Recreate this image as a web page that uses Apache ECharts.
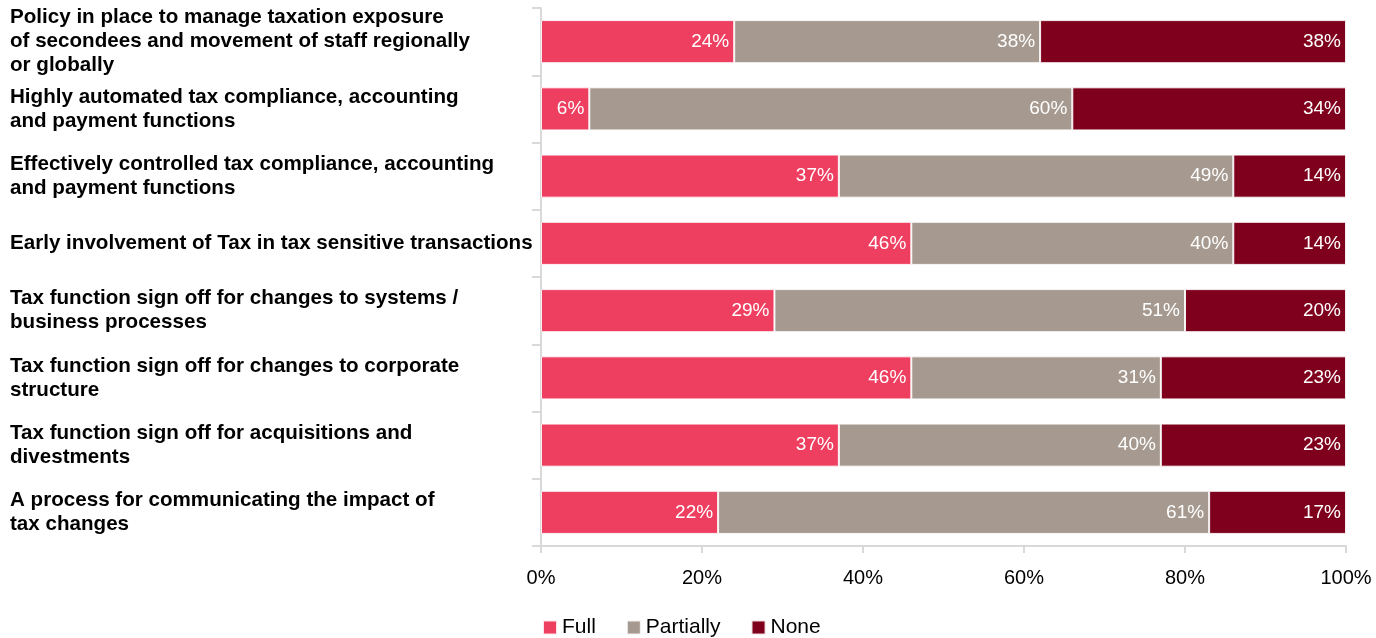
<!DOCTYPE html>
<html>
<head>
<meta charset="utf-8">
<script src="https://cdn.jsdelivr.net/npm/echarts@6/dist/echarts.min.js"></script>
<style>
  html, body { margin: 0; padding: 0; background: #fff; }
  #chart { width: 1376px; height: 638px; }
</style>
</head>
<body>
<div id="chart"></div>
<script>
// Tax governance practices, share of respondents (%)
const categories = [
  'Policy in place to manage taxation exposure\nof secondees and movement of staff regionally\nor globally',
  'Highly automated tax compliance, accounting\nand payment functions',
  'Effectively controlled tax compliance, accounting\nand payment functions',
  'Early involvement of Tax in tax sensitive transactions',
  'Tax function sign off for changes to systems /\nbusiness processes',
  'Tax function sign off for changes to corporate\nstructure',
  'Tax function sign off for acquisitions and\ndivestments',
  'A process for communicating the impact of\ntax changes'
];
const fullValues      = [24, 6, 37, 46, 29, 46, 37, 22];
const partiallyValues = [38, 60, 49, 40, 51, 31, 40, 61];
const noneValues      = [38, 34, 14, 14, 20, 23, 23, 17];
const seriesNames = ['Full', 'Partially', 'None'];
const xTicks = [0, 20, 40, 60, 80, 100];

const FONT = '"Liberation Sans", Arial, Helvetica, sans-serif';
const colors = ['#ef3f61', '#a69a90', '#7f001c'];

function barSeries(name, values, color) {
  return {
    name: name,
    type: 'bar',
    stack: 'total',
    barWidth: '64%',
    data: values,
    itemStyle: { color: color, borderColor: 'rgba(255,255,255,0.85)', borderWidth: 1 },
    label: {
      show: true,
      position: 'insideRight',
      distance: 5,
      color: '#fff',
      fontFamily: FONT,
      fontSize: 19,
      formatter: p => p.value + '%'
    },
    emphasis: { disabled: true }
  };
}

const chart = echarts.init(document.getElementById('chart'));
chart.setOption({
  animation: false,
  backgroundColor: '#fff',
  textStyle: { fontFamily: FONT },
  grid: { left: 541, right: 30, top: 8, bottom: 92, containLabel: false },
  legend: {
    data: seriesNames,
    left: 537,
    top: 612,
    icon: 'rect',
    itemWidth: 14,
    itemHeight: 14,
    itemGap: 30,
    textStyle: { fontFamily: FONT, fontSize: 21, color: '#000' }
  },
  xAxis: {
    type: 'value',
    min: xTicks[0],
    max: xTicks[xTicks.length - 1],
    interval: 20,
    axisLine: { show: true, lineStyle: { color: '#d9d9d9', width: 2 } },
    axisTick: { show: true, length: 7, lineStyle: { color: '#d9d9d9', width: 2 } },
    splitLine: { show: false },
    axisLabel: {
      margin: 22,
      color: '#000',
      fontFamily: FONT,
      fontSize: 20,
      formatter: v => v + '%'
    }
  },
  yAxis: {
    type: 'category',
    inverse: true,
    data: categories,
    axisLine: { show: true, lineStyle: { color: '#d9d9d9', width: 2 } },
    axisTick: { show: true, length: 9, lineStyle: { color: '#d9d9d9', width: 2 } },
    axisLabel: {
      align: 'left',
      margin: 531,
      color: '#000',
      fontFamily: FONT,
      fontSize: 20.6,
      fontWeight: 'bold',
      lineHeight: 24
    }
  },
  series: [
    barSeries(seriesNames[0], fullValues, colors[0]),
    barSeries(seriesNames[1], partiallyValues, colors[1]),
    barSeries(seriesNames[2], noneValues, colors[2])
  ]
});
</script>
</body>
</html>
